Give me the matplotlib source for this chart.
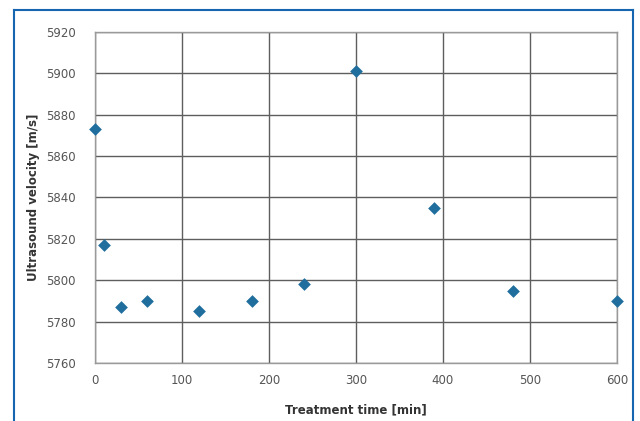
import matplotlib
matplotlib.use("Agg")
import matplotlib.pyplot as plt
from matplotlib.lines import Line2D

time_min = [0, 10, 30, 60, 120, 180, 240, 300, 390, 480, 600]
velocity = [5873, 5817, 5787, 5790, 5785, 5790, 5798, 5901, 5835, 5795, 5790]
x_ticks = [0, 100, 200, 300, 400, 500, 600]
y_ticks = [5760, 5780, 5800, 5820, 5840, 5860, 5880, 5900, 5920]

fig = plt.figure(figsize=(6.4, 4.21), dpi=100)
ax = fig.add_axes([0.1484, 0.1378, 0.8156, 0.7862])

ax.scatter(time_min, velocity, marker="D", s=42, color="#1f6e9e", zorder=3, clip_on=False, linewidths=0)

ax.set_xlim(0, 600)
ax.set_ylim(5760, 5920)
ax.set_xticks(x_ticks)
ax.set_yticks(y_ticks)
ax.grid(True, color="#5e5e5e", linewidth=1.0)
ax.set_axisbelow(True)
for s in ax.spines.values():
    s.set_color("#9a9a9a")
    s.set_linewidth(1.0)
ax.tick_params(length=0, labelsize=8.5, colors="#555555")
ax.tick_params(axis="x", pad=8)
ax.tick_params(axis="y", pad=14)
ax.set_xlabel("Treatment time [min]", fontsize=8.5, fontweight="bold", color="#333333", labelpad=12)
ax.set_ylabel("Ultrasound velocity [m/s]", fontsize=8.5, fontweight="bold", color="#333333", labelpad=4)

fc = "#1565b0"
x0, x1, yt = 14 / 640, 633 / 640, 1 - 10 / 421
fig.add_artist(Line2D([x0, x0], [0, yt], transform=fig.transFigure, color=fc, linewidth=1.5))
fig.add_artist(Line2D([x1, x1], [0, yt], transform=fig.transFigure, color=fc, linewidth=1.5))
fig.add_artist(Line2D([x0, x1], [yt, yt], transform=fig.transFigure, color=fc, linewidth=1.5))

fig.savefig("out.png", dpi=100)
